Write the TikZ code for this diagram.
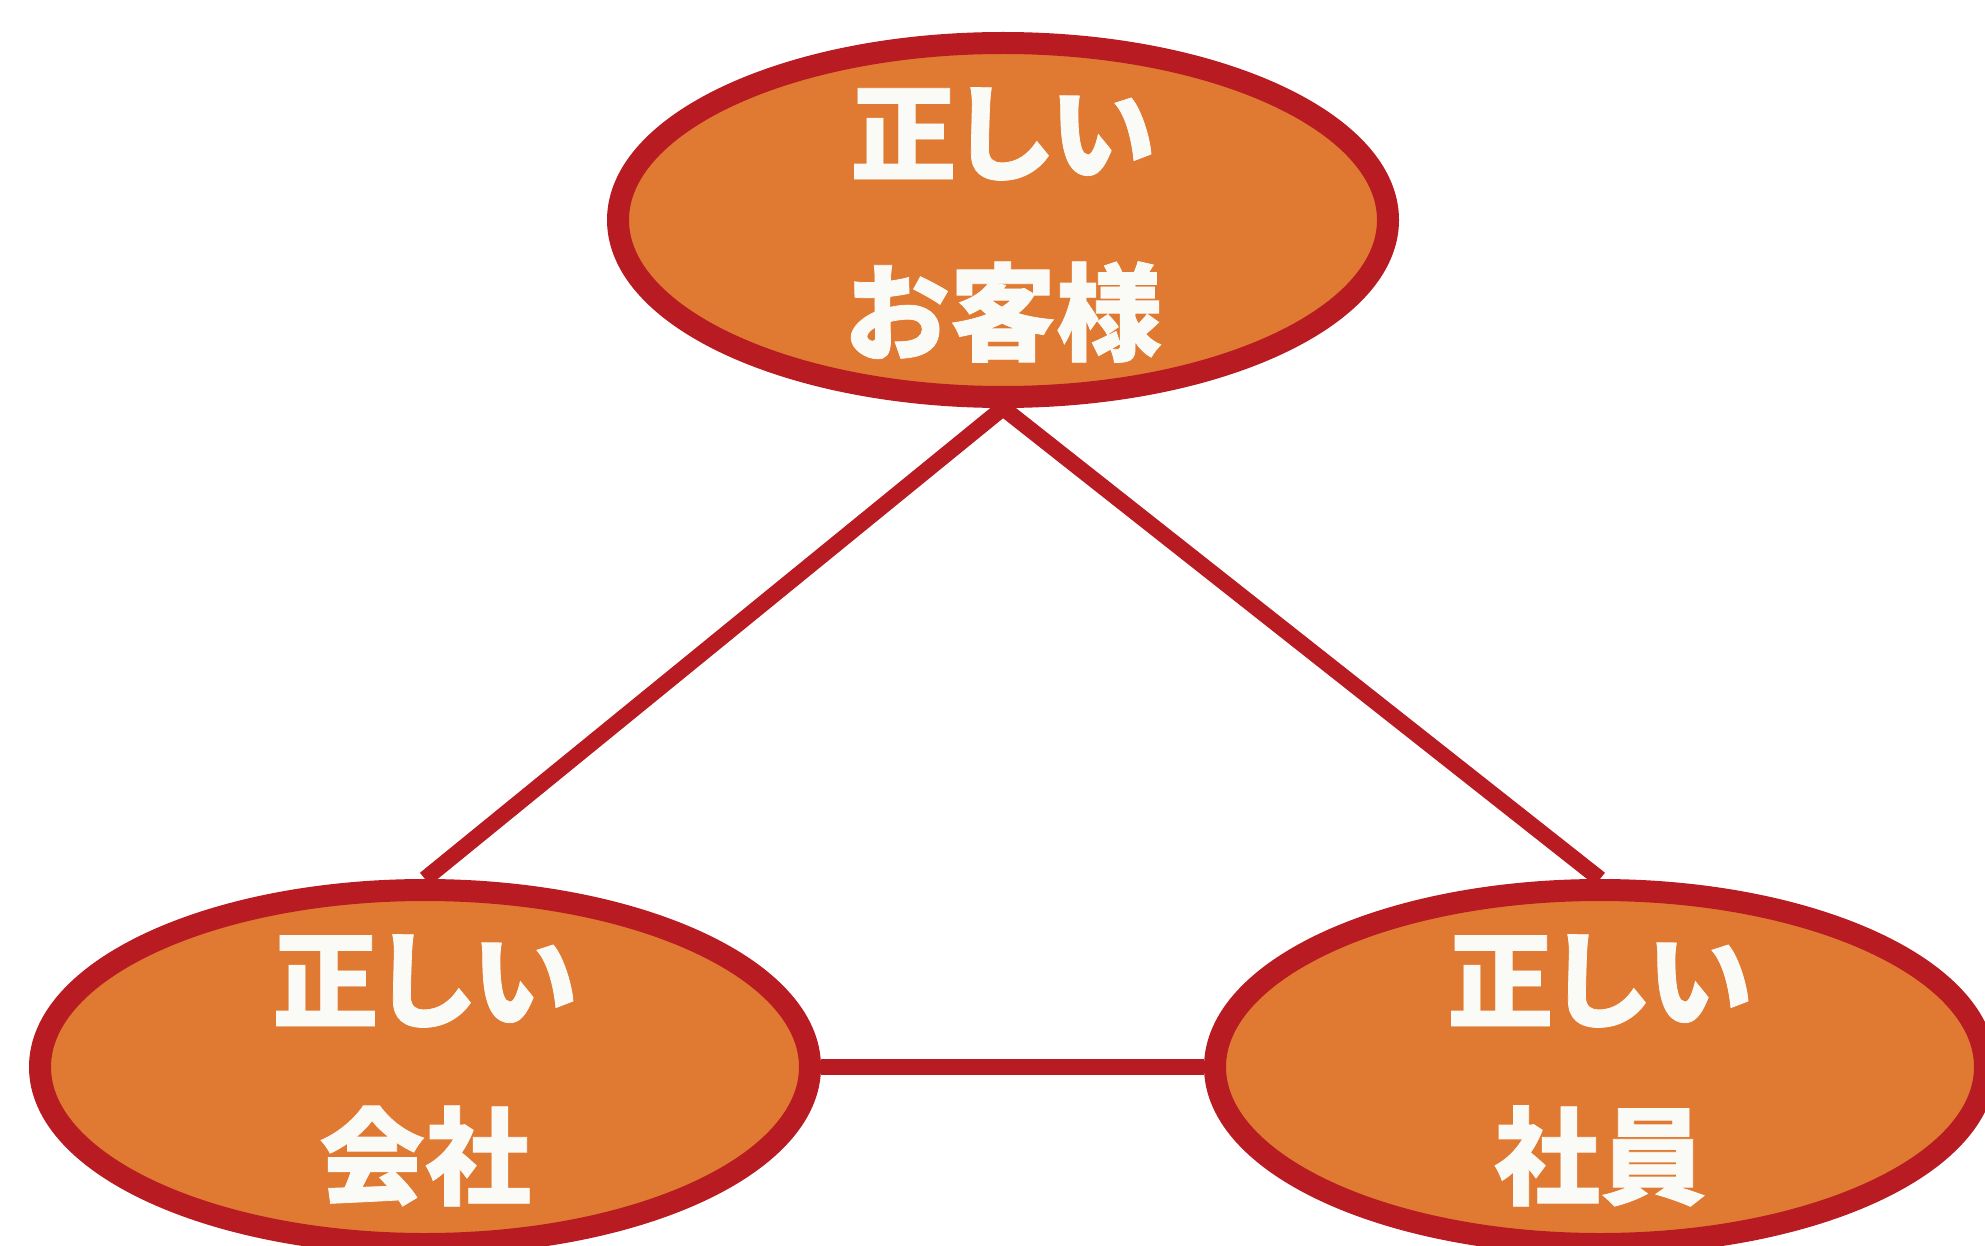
\documentclass[tikz,border=0pt]{standalone}
\usepackage{fontspec}
\newfontfamily\jp[FakeBold=0.7]{Noto Sans CJK JP Black}
\usetikzlibrary{shapes.geometric,backgrounds}
\definecolor{fillor}{RGB}{224,122,50}
\definecolor{edgered}{RGB}{184,28,34}
\definecolor{txtwhite}{RGB}{250,250,246}
\tikzset{
  oval/.style={ellipse, draw=edgered, fill=fillor, line width=22pt, minimum width=770pt, minimum height=354pt, inner sep=0pt},
  lbl/.style={text=txtwhite, font=\jp\fontsize{106}{106}\selectfont, inner sep=0pt, anchor=center},
  link/.style={draw=edgered, line width=16pt}
}
\begin{document}
\begin{tikzpicture}[x=1pt,y=-1pt]
\useasboundingbox (0,0) rectangle (1985,1246);
\node[oval] (top) at (1003,220) {};
\node[oval] (bl) at (425,1067) {};
\node[oval] (br) at (1600,1067) {};
\node[lbl] (t1) at (1003,134) {正\kern-0.06emし\kern-0.06emい};
\node[lbl] (t2) at (1003,312) {お客様};
\node[lbl] (l1) at (425,981) {正\kern-0.06emし\kern-0.06emい};
\node[lbl] (l2) at (425,1156) {会社};
\node[lbl] (r1) at (1600,981) {正\kern-0.06emし\kern-0.06emい};
\node[lbl] (r2) at (1600,1156) {社員};
\begin{scope}[on background layer]
\draw[link] (top.south) -- (bl.north);
\draw[link] (top.south) -- (br.north);
\draw[link] (bl.east) -- (br.west);
\end{scope}
\end{tikzpicture}
\end{document}
